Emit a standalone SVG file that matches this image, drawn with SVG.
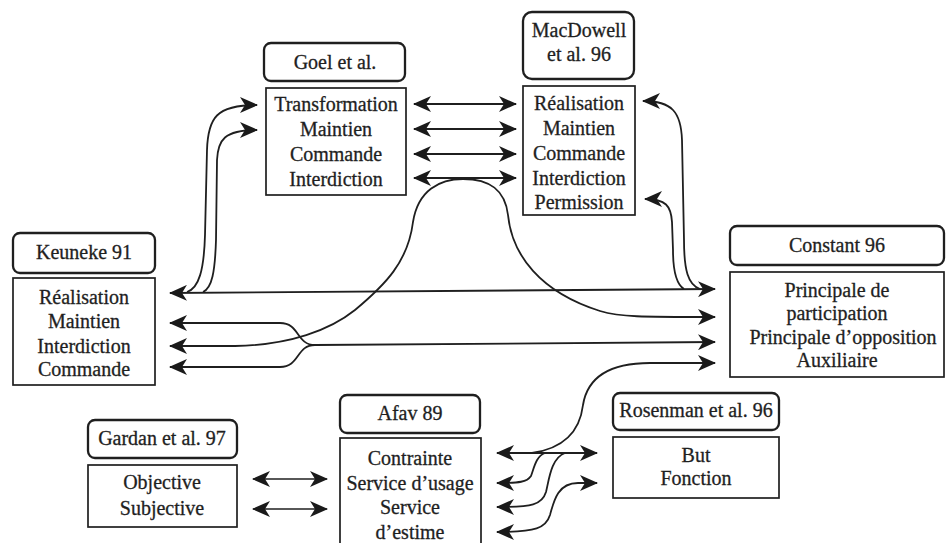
<svg xmlns="http://www.w3.org/2000/svg" width="946" height="543" viewBox="0 0 946 543">
<defs>
<marker id="ah" viewBox="0 0 18 16" refX="17" refY="8" markerWidth="18" markerHeight="16" markerUnits="userSpaceOnUse" orient="auto-start-reverse">
<path d="M0,0 L18,8 L0,16 L5,8 z" fill="#1a1a1a"/>
</marker>
<style>
.t{fill:#fff;stroke:#1f1f1f;stroke-width:2.3}
.c{fill:#fff;stroke:#1f1f1f;stroke-width:1.7}
text{font-family:'Liberation Serif','Times New Roman',serif;font-size:20px;fill:#1f1f1f;stroke:#1f1f1f;stroke-width:0.3;text-anchor:middle}
.cn path{fill:none;stroke:#1f1f1f;stroke-width:1.8}
.d{marker-start:url(#ah);marker-end:url(#ah)}
.e{marker-end:url(#ah)}
.s{marker-start:url(#ah)}
</style>
</defs>
<rect width="946" height="543" fill="#fff"/>

<g class="cn" id="connectors">
<path class="d" d="M414,104 L516,104"/>
<path class="d" d="M414,129 L516,129"/>
<path class="d" d="M414,154 L516,154"/>
<path class="d" d="M414,178 L516,178"/>
<path class="d" d="M170,293 L715,289"/>
<path class="e" d="M187,292 C199,288 204,270 205,235 L207,150 C208,118 216,105 257,105"/>
<path class="e" d="M203,292 C212,288 215,272 216,240 L217,160 C218,140 224,130 257,130"/>
<path class="e" d="M700,289 C688,285 684,270 684,240 L682,140 C681,112 672,101 643,101"/>
<path class="e" d="M684,289 C676,284 673,270 673,250 L672,222 C671,206 666,199 645,199"/>
<path class="d" d="M170,346 L235,346 C290,345 330,330 355,310 C385,285 408,262 413,222 C418,190 440,179 463,179 C490,179 505,190 508,215 C512,255 540,292 600,311 C620,317 640,317 715,317"/>
<path class="d" d="M170,323 L280,323 C300,323 296,345 315,345 L715,342"/>
<path class="s" d="M170,367 L280,367 C300,367 296,345 315,345"/>
<path class="d" d="M497,453 L597,453"/>
<path class="e" d="M532,453 C566,448 580,430 583,405 C587,380 605,363 650,363 L715,363"/>
<path class="e" d="M545,453 C536,456 534,468 531,476 C527,482 520,483 497,483"/>
<path class="e" d="M565,453 C551,458 549,480 546,492 C542,505 532,507 497,507"/>
<path class="d" d="M597,483 L578,483 C558,483 554,500 550,515 C546,528 536,532 497,532"/>
<path class="d" d="M253,479 L327,479" style="stroke-width:1.5"/>
<path class="d" d="M253,509 L327,509" style="stroke-width:1.5"/>
</g>

<g id="goel">
<rect class="t" x="264" y="43" width="141" height="38" rx="7"/>
<text x="335" y="69">Goel et al.</text>
<rect class="c" x="266" y="88" width="140" height="107"/>
<text x="336" y="111">Transformation</text>
<text x="336" y="136">Maintien</text>
<text x="336" y="161">Commande</text>
<text x="336" y="186">Interdiction</text>
</g>

<g id="macdowell">
<rect class="t" x="523" y="12" width="111" height="67" rx="9"/>
<text x="579" y="37">MacDowell</text>
<text x="579" y="61">et al. 96</text>
<rect class="c" x="523" y="86" width="112" height="129"/>
<text x="579" y="110">Réalisation</text>
<text x="579" y="135">Maintien</text>
<text x="579" y="160">Commande</text>
<text x="579" y="185">Interdiction</text>
<text x="579" y="209">Permission</text>
</g>

<g id="keuneke">
<rect class="t" x="13" y="233" width="142" height="40" rx="7"/>
<text x="84" y="259">Keuneke 91</text>
<rect class="c" x="13" y="278" width="142" height="107"/>
<text x="84" y="304">Réalisation</text>
<text x="84" y="328">Maintien</text>
<text x="84" y="353">Interdiction</text>
<text x="84" y="376">Commande</text>
</g>

<g id="constant">
<rect class="t" x="730" y="226" width="214" height="39" rx="7"/>
<text x="837" y="252">Constant 96</text>
<rect class="c" x="730" y="272" width="214" height="105"/>
<text x="837" y="297">Principale de</text>
<text x="837" y="320">participation</text>
<text x="843" y="344">Principale d’opposition</text>
<text x="837" y="367">Auxiliaire</text>
</g>

<g id="gardan">
<rect class="t" x="88" y="420" width="149" height="38" rx="7"/>
<text x="162" y="445">Gardan et al. 97</text>
<rect class="c" x="88" y="465" width="149" height="62"/>
<text x="162" y="489">Objective</text>
<text x="162" y="515">Subjective</text>
</g>

<g id="afav">
<rect class="t" x="340" y="395" width="140" height="38" rx="7"/>
<text x="410" y="420">Afav 89</text>
<rect class="c" x="340" y="438" width="141" height="112"/>
<text x="410" y="465">Contrainte</text>
<text x="410" y="490">Service d’usage</text>
<text x="410" y="514">Service</text>
<text x="410" y="539">d’estime</text>
</g>

<g id="rosenman">
<rect class="t" x="613" y="393" width="166" height="37" rx="7"/>
<text x="696" y="417">Rosenman et al. 96</text>
<rect class="c" x="613" y="437" width="166" height="61"/>
<text x="696" y="462">But</text>
<text x="696" y="485">Fonction</text>
</g>
</svg>
